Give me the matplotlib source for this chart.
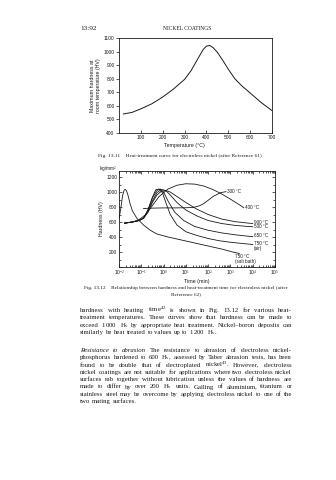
import matplotlib
matplotlib.use("Agg")
import matplotlib.pyplot as plt
from matplotlib.ticker import FixedLocator, LogLocator, NullFormatter

plt.rcParams['mathtext.fontset'] = 'custom'
plt.rcParams['mathtext.rm'] = 'Liberation Serif'
plt.rcParams['mathtext.it'] = 'Liberation Serif:italic'
plt.rcParams['mathtext.bf'] = 'Liberation Serif:bold'

SERIF = 'Liberation Serif'
SANS = 'Liberation Sans'
INK = '#1a1a1a'

# ---- Fig. 13.11: maximum hardness vs heat-treatment temperature ----
temp_c = [20, 60, 100, 150, 200, 250, 300, 330, 360, 385, 400, 415, 430, 450, 475, 500, 530, 560, 600, 650, 700]
max_hv = [540, 552, 578, 615, 665, 725, 795, 860, 945, 1015, 1040, 1045, 1030, 995, 935, 870, 800, 750, 695, 625, 565]
temp_ticks = [100, 200, 300, 400, 500, 600, 700]
hv_ticks_1 = [400, 500, 600, 700, 800, 900, 1000, 1100]

# ---- Fig. 13.12: hardness vs heat-treatment time (log10 of minutes) ----
t_salt = [-2.0, -1.92, -1.84, -1.77, -1.72, -1.67, -1.6, -1.5, -1.4, -1.2, -0.9, -0.6, -0.3, 0.2, 0.8, 1.4, 2.0, 2.6, 3.1, 3.4]
hv_salt = [640, 780, 950, 1025, 1035, 1020, 960, 840, 750, 650, 560, 490, 440, 400, 360, 320, 280, 240, 200, 180]
t_air = [-1.75, -1.4, -1.1, -0.9, -0.7, -0.5, -0.35, -0.2, -0.05, 0.1, 0.3, 0.6, 1.0, 1.5, 2.0, 2.5, 3.0, 3.5, 4.0]
hv_air = [585, 600, 620, 650, 760, 930, 1030, 1040, 990, 860, 700, 560, 470, 420, 380, 350, 330, 315, 300]
t_650 = [-1.75, -1.4, -1.1, -0.9, -0.7, -0.5, -0.3, -0.15, 0.0, 0.2, 0.5, 0.9, 1.4, 2.0, 2.6, 3.2, 3.8, 4.0]
hv_650 = [585, 600, 620, 650, 760, 920, 1020, 1040, 1000, 880, 730, 620, 540, 490, 455, 430, 410, 405]
t_500 = [-1.75, -1.4, -1.1, -0.9, -0.7, -0.5, -0.3, -0.1, 0.1, 0.3, 0.6, 1.0, 1.5, 2.0, 2.6, 3.2, 3.8, 4.0]
hv_500 = [585, 600, 620, 650, 740, 880, 990, 1035, 1020, 960, 860, 760, 680, 620, 580, 555, 540, 537]
t_900 = [-1.75, -1.4, -1.1, -0.9, -0.7, -0.5, -0.3, -0.1, 0.1, 0.3, 0.6, 1.0, 1.5, 2.0, 2.6, 3.2, 3.8, 4.0]
hv_900 = [585, 600, 620, 650, 730, 860, 960, 1010, 1020, 1000, 940, 860, 770, 700, 640, 605, 585, 580]
t_400 = [-1.75, -1.4, -1.1, -0.8, -0.5, -0.2, 0.2, 0.6, 1.0, 1.4, 1.8, 2.2, 2.6, 3.0, 3.4, 3.6]
hv_400 = [585, 600, 630, 700, 820, 940, 1040, 1090, 1110, 1105, 1080, 1035, 975, 905, 830, 790]
t_300 = [-0.9, -0.5, 0.0, 0.5, 1.0, 1.35, 1.6, 1.8, 2.0, 2.25, 2.55, 2.8]
hv_300 = [780, 785, 788, 788, 790, 795, 815, 845, 890, 945, 990, 1005]
time_ticks = [-2, -1, 0, 1, 2, 3, 4, 5]
hv_ticks_2 = [200, 400, 600, 800, 1000, 1200]

fig = plt.figure(figsize=(3.36, 4.80), dpi=100)
fig.patch.set_facecolor('white')
W, H = 336.0, 480.0


def fx(px):
    return px / W


def fy(py):
    return 1 - py / H


def style_axes(ax):
    for s in ax.spines.values():
        s.set_linewidth(0.6)
        s.set_color(INK)
    ax.tick_params(which='both', colors=INK, labelsize=3.5, width=0.5, pad=1.2)
    ax.tick_params(which='major', length=2.0)
    ax.tick_params(which='minor', length=1.2)
    for lab in ax.get_xticklabels() + ax.get_yticklabels():
        lab.set_family(SANS)


# header line
fig.text(fx(80), fy(30), '13:92', family=SERIF, fontsize=5.2, color=INK, va='baseline')
fig.text(fx(187), fy(30), 'NICKEL COATINGS', family=SERIF, fontsize=4.0, color=INK,
         va='baseline', ha='center')

# ---- chart 1 ----
ax1 = fig.add_axes([fx(119), fy(133), fx(272) - fx(119), fy(38) - fy(133)])
ax1.plot(temp_c, max_hv, color=INK, lw=0.7)
ax1.set_xlim(0, 700)
ax1.set_ylim(400, 1100)
ax1.xaxis.set_major_locator(FixedLocator(temp_ticks))
ax1.yaxis.set_major_locator(FixedLocator(hv_ticks_1))
ax1.tick_params(axis='x', direction='in')
ax1.tick_params(axis='y', direction='out')
style_axes(ax1)
ax1.set_xlabel('Temperature (°C)', family=SANS, fontsize=3.8, labelpad=1.5, color=INK)
ax1.xaxis.set_label_coords(0.43, -0.105)
ax1.set_ylabel('Maximum hardness at\nroom temperature (HV)', family=SANS, fontsize=3.8,
               labelpad=2, color=INK, linespacing=1.1)

fig.text(fx(180), fy(157), 'Fig. 13.11    Heat-treatment curve for electroless nickel (after Reference 61)',
         family=SERIF, fontsize=3.9, color=INK, ha='center', va='baseline')

# ---- chart 2 ----
ax2 = fig.add_axes([fx(119), fy(267), fx(275) - fx(119), fy(171) - fy(267)])
curves = [
    (t_salt, hv_salt), (t_air, hv_air), (t_650, hv_650), (t_500, hv_500),
    (t_900, hv_900), (t_400, hv_400), (t_300, hv_300),
]
for t, hv in curves:
    ax2.plot([10 ** v for v in t], hv, color=INK, lw=0.6)
ax2.set_xscale('log')
ax2.set_xlim(1e-2, 1e5)
ax2.set_ylim(0, 1280)
ax2.xaxis.set_major_locator(FixedLocator([10.0 ** k for k in time_ticks]))
ax2.xaxis.set_minor_locator(LogLocator(base=10, subs=range(2, 10)))
ax2.xaxis.set_minor_formatter(NullFormatter())
ax2.yaxis.set_major_locator(FixedLocator(hv_ticks_2))
ax2.yaxis.set_minor_locator(FixedLocator(range(0, 1280, 100)))
ax2.set_xticklabels(['10$^{%d}$' % k for k in time_ticks])
ax2.tick_params(which='both', direction='in', top=True, right=True)
style_axes(ax2)
ax2.set_xlabel('Time (min)', family=SANS, fontsize=3.8, labelpad=1.2, color=INK)
ax2.set_ylabel('Hardness (HV)', family=SANS, fontsize=3.8, labelpad=2, color=INK)
fig.text(fx(99), fy(170.5), 'kg/mm$^2$', family=SANS, fontsize=3.4, color=INK, va='baseline')

curve_labels = [
    ('300 °C', 2.85, 1005), ('400 °C', 3.65, 790), ('900 °C', 4.05, 600),
    ('500 °C', 4.05, 535), ('650 °C', 4.05, 420), ('750 °C\n(air)', 4.05, 280),
    ('750 °C\n(salt bath)', 3.2, 110),
]
for txt, lx, ly in curve_labels:
    ax2.text(10 ** lx, ly, txt, family=SANS, fontsize=3.3, color=INK, va='center',
             ha='left', linespacing=0.95)

fig.text(fx(186), fy(289), 'Fig. 13.12    Relationship between hardness and heat-treatment time for electroless nickel (after',
         family=SERIF, fontsize=3.8, color=INK, ha='center', va='baseline')
fig.text(fx(186), fy(295), 'Reference 62)', family=SERIF, fontsize=3.8, color=INK,
         ha='center', va='baseline')

# ---- body text, justified ----
para1 = [
    "hardness with heating time$^{42}$ is shown in Fig. 13.12 for various heat-",
    "treatment temperatures. These curves show that hardness can be made to",
    "exceed 1$\\,$000 H$_\\mathrm{v}$ by appropriate heat treatment. Nickel–boron deposits can",
    "similarly be heat treated to values up to 1$\\,$200 H$_\\mathrm{v}$.",
]
para2 = [
    "/Resistance /to /abrasion  The resistance to abrasion of electroless nickel-",
    "phosphorus hardened to 600 H$_\\mathrm{v}$, assessed by Taber abrasion tests, has been",
    "found to be double that of electroplated nickel$^{43}$. However, electroless",
    "nickel coatings are not suitable for applications where two electroless nickel",
    "surfaces rub together without lubrication unless the values of hardness are",
    "made to differ by over 200 H$_\\mathrm{v}$ units. Galling of aluminium, titanium or",
    "stainless steel may be overcome by applying electroless nickel to one of the",
    "two mating surfaces.",
]

renderer = fig.canvas.get_renderer()
X0, X1 = fx(80), fx(292)


def make_words(line, y, size):
    items = []
    for w in line.split():
        italic = w.startswith('/')
        t = fig.text(0, y, w.lstrip('/'), family=SERIF, fontsize=size, color=INK,
                     va='baseline', style='italic' if italic else 'normal')
        items.append(t)
    return items


def natural_width(line, size):
    items = make_words(line, 0, size)
    widths = [t.get_window_extent(renderer).width for t in items]
    for t in items:
        t.remove()
    return sum(widths) + (len(widths) - 1) * size * 0.25 / 72 * fig.dpi


# pick a body size so the longest line just fits the measure
base = 4.6
widest = max(natural_width(l, base) for l in para1[:-1] + para2[:-1])
BODY_SIZE = base * 0.985 * (X1 - X0) * fig.bbox.width / widest


def draw_line(line, y, justify):
    items = make_words(line, y, BODY_SIZE)
    widths = [t.get_window_extent(renderer).width / fig.bbox.width for t in items]
    space = BODY_SIZE * 0.25 / 72 * fig.dpi / fig.bbox.width
    if justify and len(items) > 1:
        gap = (X1 - X0 - sum(widths)) / (len(items) - 1)
    else:
        gap = space
    x = X0
    for t, w in zip(items, widths):
        t.set_x(x)
        x += w + gap


def draw_para(lines, y_start, dy):
    for i, line in enumerate(lines):
        draw_line(line, fy(y_start + i * dy), i < len(lines) - 1)


draw_para(para1, 312, 7.3)
draw_para(para2, 352, 7.3)

fig.savefig('out.png', dpi=100, facecolor='white')
